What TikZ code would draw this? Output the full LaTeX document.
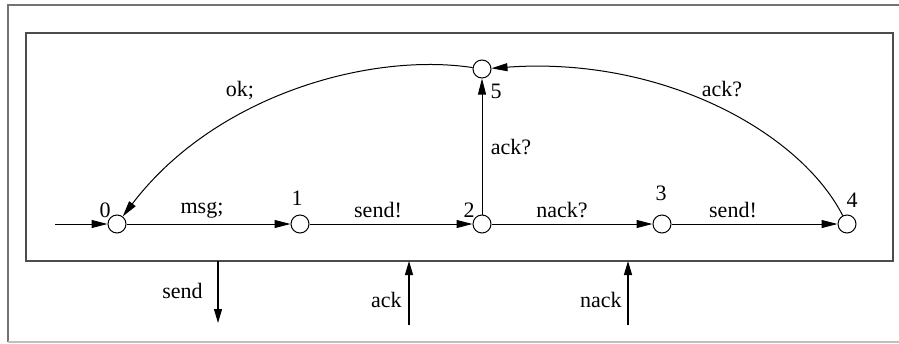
\documentclass[tikz,border=0pt]{standalone}
\usepackage{fontspec}
\setmainfont{Liberation Serif}
\usetikzlibrary{arrows.meta}
\begin{document}
\begin{tikzpicture}[x=0.5pt,y=-0.5pt,
  state/.style={circle,draw,fill=white,minimum size=9pt,inner sep=0pt,line width=0.5pt},
  lbl/.style={font=\fontsize{11}{13}\selectfont,inner sep=0pt},
  edge/.style={line width=0.5pt,-{Triangle[length=8pt,width=4pt]}},
  port/.style={line width=0.6pt,-{Triangle[length=7pt,width=4pt]}}]
\useasboundingbox (0,0) rectangle (899,343);
% outer frame
\draw[line width=1pt,black!55] (899,5) -- (8,5) -- (8,342);
\draw[line width=1pt,black!25] (8,342) -- (899,342);
% inner box
\draw[line width=1pt,black!70] (26,33) rectangle (893,261);
% states
\node[state] (n0) at (117,224) {};
\node[state] (n1) at (300,224) {};
\node[state] (n2) at (482,224) {};
\node[state] (n3) at (662,224) {};
\node[state] (n4) at (847,224) {};
\node[state] (n5) at (482,69) {};
% state labels
\node[lbl] (l0) at (105,210) {0};
\node[lbl] (l1) at (297,198) {1};
\node[lbl] (l2) at (469,210) {2};
\node[lbl] (l3) at (661,193) {3};
\node[lbl] (l4) at (852,200) {4};
\node[lbl] (l5) at (496,91) {5};
% initial arrow
\coordinate (init) at (55,224);
\draw[edge] (init) -- (n0);
% transitions
\draw[edge] (n0) -- (n1);
\draw[edge] (n1) -- (n2);
\draw[edge] (n2) -- (n3);
\draw[edge] (n3) -- (n4);
\draw[edge] (n2) -- (n5);
\draw[edge] (n5) .. controls (370,52) and (215,95) .. (n0);
\draw[edge] (n4) .. controls (800,132) and (662,56) .. (n5);
% transition labels
\node[lbl] (tmsg) at (202,210) {msg;};
\node[lbl] (tsend1) at (378,210) {send!};
\node[lbl] (tnack) at (562,210) {nack?};
\node[lbl] (tsend2) at (733,210) {send!};
\node[lbl] (tack1) at (511,147) {ack?};
\node[lbl] (tok) at (240,91) {ok;};
\node[lbl] (tack2) at (722,89) {ack?};
% ports
\coordinate (sendA) at (218,261);
\coordinate (sendB) at (218,323);
\coordinate (ackA) at (409,325);
\coordinate (ackB) at (409,261);
\coordinate (nackA) at (628,325);
\coordinate (nackB) at (628,261);
\draw[port] (sendA) -- (sendB);
\draw[port] (ackA) -- (ackB);
\draw[port] (nackA) -- (nackB);
\node[lbl,anchor=east] (psend) at (203,291) {send};
\node[lbl,anchor=east] (pack) at (402,300) {ack};
\node[lbl,anchor=east] (pnack) at (622,300) {nack};
\end{tikzpicture}
\end{document}
